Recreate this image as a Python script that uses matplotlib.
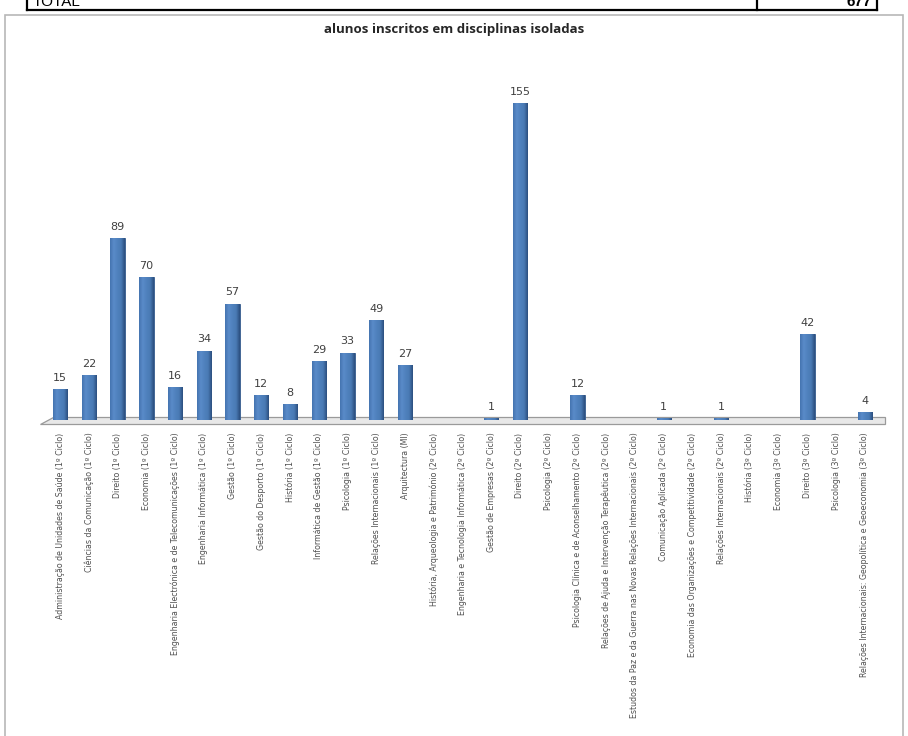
import numpy as np
import matplotlib
matplotlib.use("Agg")
from matplotlib import pyplot as plt
from matplotlib.patches import Rectangle, Polygon

cursos = [
    "Administração de Unidades de Saúde (1º Ciclo)",
    "Ciências da Comunicação (1º Ciclo)",
    "Direito (1º Ciclo)",
    "Economia (1º Ciclo)",
    "Engenharia Electrónica e de Telecomunicações (1º Ciclo)",
    "Engenharia Informática (1º Ciclo)",
    "Gestão (1º Ciclo)",
    "Gestão do Desporto (1º Ciclo)",
    "História (1º Ciclo)",
    "Informática de Gestão (1º Ciclo)",
    "Psicologia (1º Ciclo)",
    "Relações Internacionais (1º Ciclo)",
    "Arquitectura (MI)",
    "História, Arqueologia e Património (2º Ciclo)",
    "Engenharia e Tecnologia Informática (2º Ciclo)",
    "Gestão de Empresas (2º Ciclo)",
    "Direito (2º Ciclo)",
    "Psicologia (2º Ciclo)",
    "Psicologia Clínica e de Aconselhamento (2º Ciclo)",
    "Relações de Ajuda e Intervenção Terapêutica (2º Ciclo)",
    "Estudos da Paz e da Guerra nas Novas Relações Internacionais (2º Ciclo)",
    "Comunicação Aplicada (2º Ciclo)",
    "Economia das Organizações e Competitividade (2º Ciclo)",
    "Relações Internacionais (2º Ciclo)",
    "História (3º Ciclo)",
    "Economia (3º Ciclo)",
    "Direito (3º Ciclo)",
    "Psicologia (3º Ciclo)",
    "Relações Internacionais: Geopolítica e Geoeconomia (3º Ciclo)",
]
alunos = [15, 22, 89, 70, 16, 34, 57, 12, 8, 29, 33, 49, 27, 0, 0, 1,
          155, 0, 12, 0, 0, 1, 0, 1, 0, 0, 42, 0, 4]
total = 677

W, H = 908, 736
fig = plt.figure(figsize=(W / 100, H / 100), dpi=100)

def px(x, y):
    return x / W, 1 - y / H

# linha de total da tabela (cortada no topo)
for x0, x1, y0, y1 in [(27, 877, 10, 10), (27, 27, 0, 10), (757, 757, 0, 10), (877, 877, 0, 10)]:
    a, b = px(x0, y0)
    c, d = px(x1, y1)
    fig.add_artist(plt.Line2D([a, c], [b, d], color="black", lw=1.6))
fig.text(*px(33, 6), "TOTAL", fontsize=11, va="baseline", family="Liberation Sans")
fig.text(*px(872, 6), str(total), fontsize=11, va="baseline", ha="right",
         fontweight="bold", family="Liberation Sans")

# moldura do gráfico
fig.add_artist(Rectangle(px(5, 760), 898 / W, 745 / H, transform=fig.transFigure,
                         fill=False, edgecolor="#b8b8b8", lw=1.2))
fig.text(0.5, 1 - 30 / H, "alunos inscritos em disciplinas isoladas", ha="center",
         va="center", fontsize=9.5, fontweight="bold", color="#262626",
         family="Open Sans")

ax = fig.add_axes([40 / W, 316 / H, 845 / W, 327 / H])
x = np.arange(len(alunos))
ax.set_xlim(-0.7, len(alunos) - 0.3)
ax.set_ylim(0, 160)

# chão em perspectiva
ax.add_patch(Polygon([(0.0, -0.012), (1.0, -0.012), (1.0, 0.008), (0.015, 0.008)],
                     closed=True, transform=ax.transAxes, facecolor="#e8e8e8",
                     edgecolor="#9a9a9a", lw=0.9, clip_on=False, zorder=1))

# barras cilíndricas com gradiente horizontal
grad = np.linspace(0, 1, 64).reshape(1, -1)
cmap = matplotlib.colors.LinearSegmentedColormap.from_list(
    "cil", ["#4474b0", "#5a8bc9", "#4f81bd", "#4a7ab4", "#2b4f7f"])
largura = 0.5
bars = ax.bar(x, alunos, width=largura, color="#4f81bd", edgecolor="#34598a",
              lw=0.6, zorder=2)
for b, v in zip(bars, alunos):
    if v == 0:
        continue
    im = ax.imshow(grad, cmap=cmap, aspect="auto", zorder=3,
                   extent=(b.get_x(), b.get_x() + largura, 0, v))
    im.set_clip_path(b)
    ax.text(b.get_x() + largura / 2, v + 3, str(v), ha="center", va="bottom",
            fontsize=8, color="#404040")

ax.set_xticks(x)
ax.set_xticklabels(cursos, rotation=90, fontsize=5.7, color="#505050", va="top")
ax.tick_params(axis="x", length=0, pad=9)
ax.set_yticks([])
for s in ax.spines.values():
    s.set_visible(False)
ax.patch.set_alpha(0)

fig.savefig("out.png", dpi=100)
